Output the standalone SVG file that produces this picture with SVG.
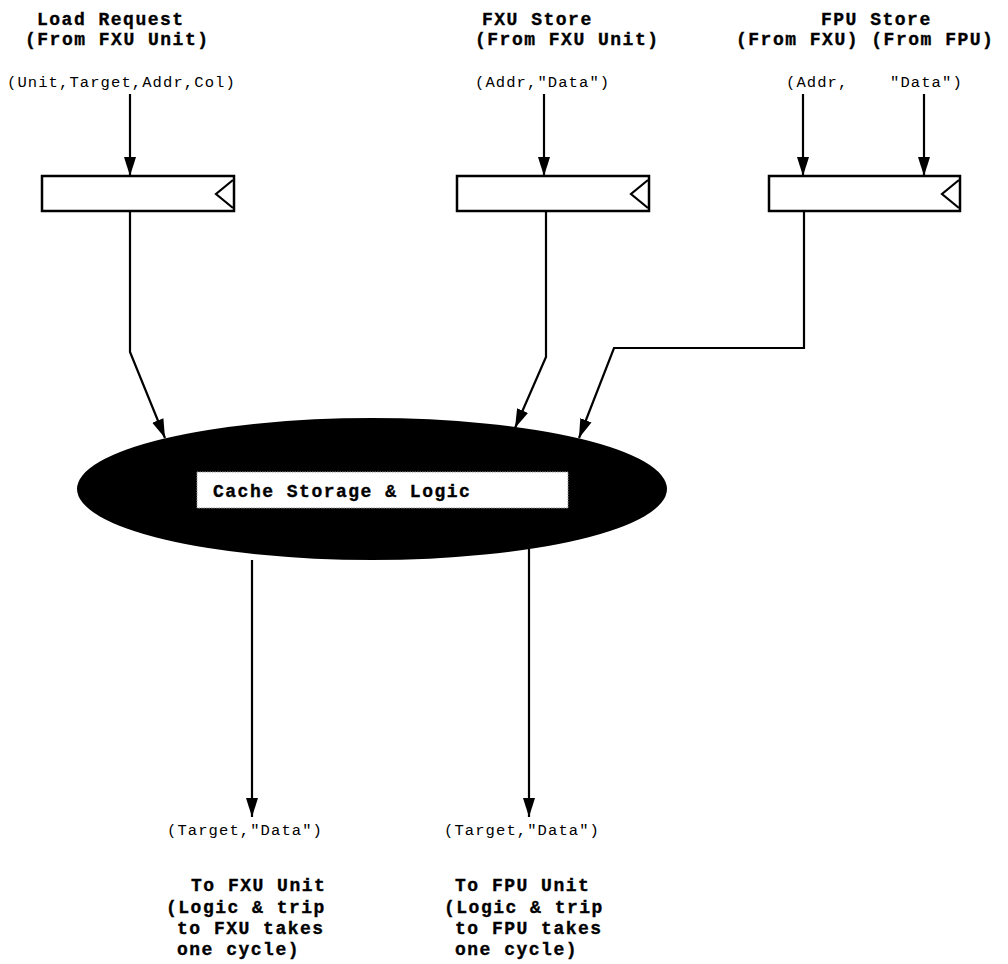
<svg xmlns="http://www.w3.org/2000/svg" width="1008" height="964" viewBox="0 0 1008 964">
<style>
.t{font-family:"Liberation Mono","Courier New",monospace;font-weight:bold;font-size:18px;letter-spacing:1.5px;fill:#000;stroke:#000;stroke-width:0.35px}
.s{font-family:"Liberation Mono","Courier New",monospace;font-size:15.5px;letter-spacing:1.1px;fill:#000}
.box{fill:#fff;stroke:#000;stroke-width:2.5}
.notch{fill:none;stroke:#000;stroke-width:2.2}
.c{fill:none;stroke:#000;stroke-width:2.2;marker-end:url(#ah)}
</style>
<defs>
<marker id="ah" markerUnits="userSpaceOnUse" markerWidth="20" markerHeight="13" refX="19" refY="6.5" orient="auto">
<path d="M0,0.5 L19,6.5 L0,12.5 z" fill="#000"/>
</marker>
</defs>
<rect width="1008" height="964" fill="#fff"/>

<g id="load-request">
<text class="t" x="37" y="25">Load Request</text>
<text class="t" x="25" y="45">(From FXU Unit)</text>
<text class="s" x="7" y="87">(Unit,Target,Addr,Col)</text>
<rect class="box" x="42" y="176" width="192" height="35"/>
<path class="notch" d="M233,180 L216,194 L233,208"/>
</g>

<g id="fxu-store">
<text class="t" x="482" y="25">FXU Store</text>
<text class="t" x="475" y="45">(From FXU Unit)</text>
<text class="s" x="475" y="87">(Addr,"Data")</text>
<rect class="box" x="457" y="176" width="192" height="35"/>
<path class="notch" d="M648,180 L631,194 L648,208"/>
</g>

<g id="fpu-store">
<text class="t" x="821" y="25">FPU Store</text>
<text class="t" x="736" y="45">(From FXU)  (From FPU)</text>
<text class="s" x="786" y="87">(Addr,</text>
<text class="s" x="890" y="87">"Data")</text>
<rect class="box" x="769" y="176" width="191" height="35"/>
<path class="notch" d="M959,180 L942,194 L959,208"/>
</g>

<g id="cache">
<ellipse cx="372" cy="489" rx="295" ry="71" fill="#000"/>
<rect x="197" y="472" width="371" height="36" fill="#fff" stroke="#999" stroke-width="1" stroke-dasharray="1.5,1"/>
<text class="t" x="213" y="497">Cache Storage &amp; Logic</text>
</g>

<g id="to-fxu">
<text class="s" x="167" y="835">(Target,"Data")</text>
<text class="t" x="191" y="891">To FXU Unit</text>
<text class="t" x="166" y="913">(Logic &amp; trip</text>
<text class="t" x="177" y="934">to FXU takes</text>
<text class="t" x="177" y="955">one cycle)</text>
</g>

<g id="to-fpu">
<text class="s" x="444" y="835">(Target,"Data")</text>
<text class="t" x="455" y="891">To FPU Unit</text>
<text class="t" x="444" y="913">(Logic &amp; trip</text>
<text class="t" x="455" y="934">to FPU takes</text>
<text class="t" x="455" y="955">one cycle)</text>
</g>

<g id="connectors">
<path class="c" d="M130,94 V176"/>
<path class="c" d="M544,94 V176"/>
<path class="c" d="M803,94 V176"/>
<path class="c" d="M924,94 V176"/>
<path class="c" d="M130,211 V352 L165,438"/>
<path class="c" d="M546,211 V357 L515,428"/>
<path class="c" d="M804,211 V348 H614 L579,438"/>
<path class="c" d="M252,560 V817"/>
<path class="c" d="M529,549 V817"/>
</g>
</svg>
